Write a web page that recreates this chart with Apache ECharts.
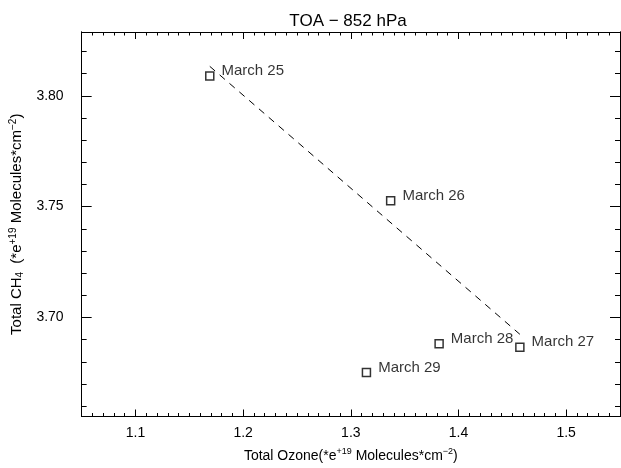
<!DOCTYPE html>
<html>
<head>
<meta charset="utf-8">
<script src="https://cdn.jsdelivr.net/npm/echarts@6/dist/echarts.min.js"></script>
<style>
html,body{margin:0;padding:0;background:#fff;}
#chart{width:621px;height:468px;}
</style>
</head>
<body>
<div id="chart"></div>
<script>
// ---- data ----
var dates = ['March 25', 'March 26', 'March 27', 'March 28', 'March 29'];
var ozone = [1.169, 1.337, 1.457, 1.382, 1.3145];
var ch4 = [3.809, 3.7527, 3.6866, 3.6881, 3.6751];
var fitLineX = [1.169, 1.457];
var fitLineY = [3.8133, 3.6924];
var xTicks = [1.1, 1.2, 1.3, 1.4, 1.5];
var yTicks = [3.70, 3.75, 3.80];
var xRange = [1.05, 1.55];
var yRange = [3.6553, 3.8288];

var xMinor = [];
for (var i = 105; i <= 155; i++) xMinor.push(i / 100);
var yMinor = [];
for (var j = 366; j <= 382; j++) yMinor.push(j / 100);

var FONT = 'Liberation Sans';
var axisLine = {show: true, onZero: false, lineStyle: {color: '#000', width: 1}};

function xAxisDef(pos, major, showLabel) {
  return {
    type: 'value', position: pos, min: xRange[0], max: xRange[1],
    axisLine: axisLine,
    splitLine: {show: false},
    axisTick: {show: true, inside: true, length: major ? 7 : 3.5,
      customValues: major ? xTicks : xMinor, lineStyle: {color: '#000', width: 1}},
    axisLabel: {show: showLabel, customValues: xTicks, margin: 10, color: '#000',
      fontFamily: FONT, fontSize: 14, formatter: function (v) { return v.toFixed(1); }},
    name: showLabel ? 'Total Ozone(*e{sup|+19} Molecules*cm{sup|\u22122})' : '',
    nameLocation: 'middle', nameGap: 31,
    nameTextStyle: {color: '#000', fontFamily: FONT, fontSize: 14,
      rich: {sup: {fontSize: 9, fontFamily: FONT, color: '#000', padding: [0, 0, 8, 0]}}}
  };
}
function yAxisDef(pos, major, showLabel) {
  return {
    type: 'value', position: pos, min: yRange[0], max: yRange[1],
    axisLine: axisLine,
    splitLine: {show: false},
    axisTick: {show: true, inside: true, length: major ? 10 : 5,
      customValues: major ? yTicks : yMinor, lineStyle: {color: '#000', width: 1}},
    axisLabel: {show: showLabel, customValues: yTicks, margin: 18, color: '#000',
      fontFamily: FONT, fontSize: 14, formatter: function (v) { return v.toFixed(2); }},
    name: showLabel ? 'Total CH{sub|4} (*e{sup|+19} Molecules*cm{sup|\u22122})' : '',
    nameLocation: 'middle', nameGap: 52,
    nameTextStyle: {color: '#000', fontFamily: FONT, fontSize: 15,
      rich: {sup: {fontSize: 10, fontFamily: FONT, color: '#000', padding: [0, 0, 8, 0]},
             sub: {fontSize: 10, fontFamily: FONT, color: '#000', padding: [7, 4, 0, 0]}}}
  };
}

var points = dates.map(function (d, k) { return {name: d, value: [ozone[k], ch4[k]]}; });
var fitLine = fitLineX.map(function (x, k) { return [x, fitLineY[k]]; });

var chart = echarts.init(document.getElementById('chart'), null, {renderer: 'canvas'});
chart.setOption({
  animation: false,
  backgroundColor: '#fff',
  grid: {left: 76, right: 1, top: 32, bottom: 48, containLabel: false},
  graphic: [{type: 'text', x: 348, y: 13,
    style: {text: 'TOA \u2212 852 hPa', align: 'center', verticalAlign: 'top',
      fill: '#000', font: '17px "Liberation Sans"'}}],
  xAxis: [xAxisDef('bottom', true, true), xAxisDef('bottom', false, false),
          xAxisDef('top', true, false), xAxisDef('top', false, false)],
  yAxis: [yAxisDef('left', true, true), yAxisDef('left', false, false),
          yAxisDef('right', true, false), yAxisDef('right', false, false)],
  series: [
    {type: 'line', xAxisIndex: 0, yAxisIndex: 0, data: fitLine, symbol: 'none',
     lineStyle: {color: '#000', width: 1, type: [7, 6]}, silent: true},
    {type: 'scatter', xAxisIndex: 0, yAxisIndex: 0, data: points, symbol: 'rect', symbolSize: 8,
     itemStyle: {color: 'rgba(0,0,0,0)', borderColor: '#000', borderWidth: 1.5},
     label: {show: true, position: 'right', distance: 7, offset: [0, -5], formatter: '{b}',
       color: '#000', fontFamily: FONT, fontSize: 15}}
  ]
});
</script>
</body>
</html>
